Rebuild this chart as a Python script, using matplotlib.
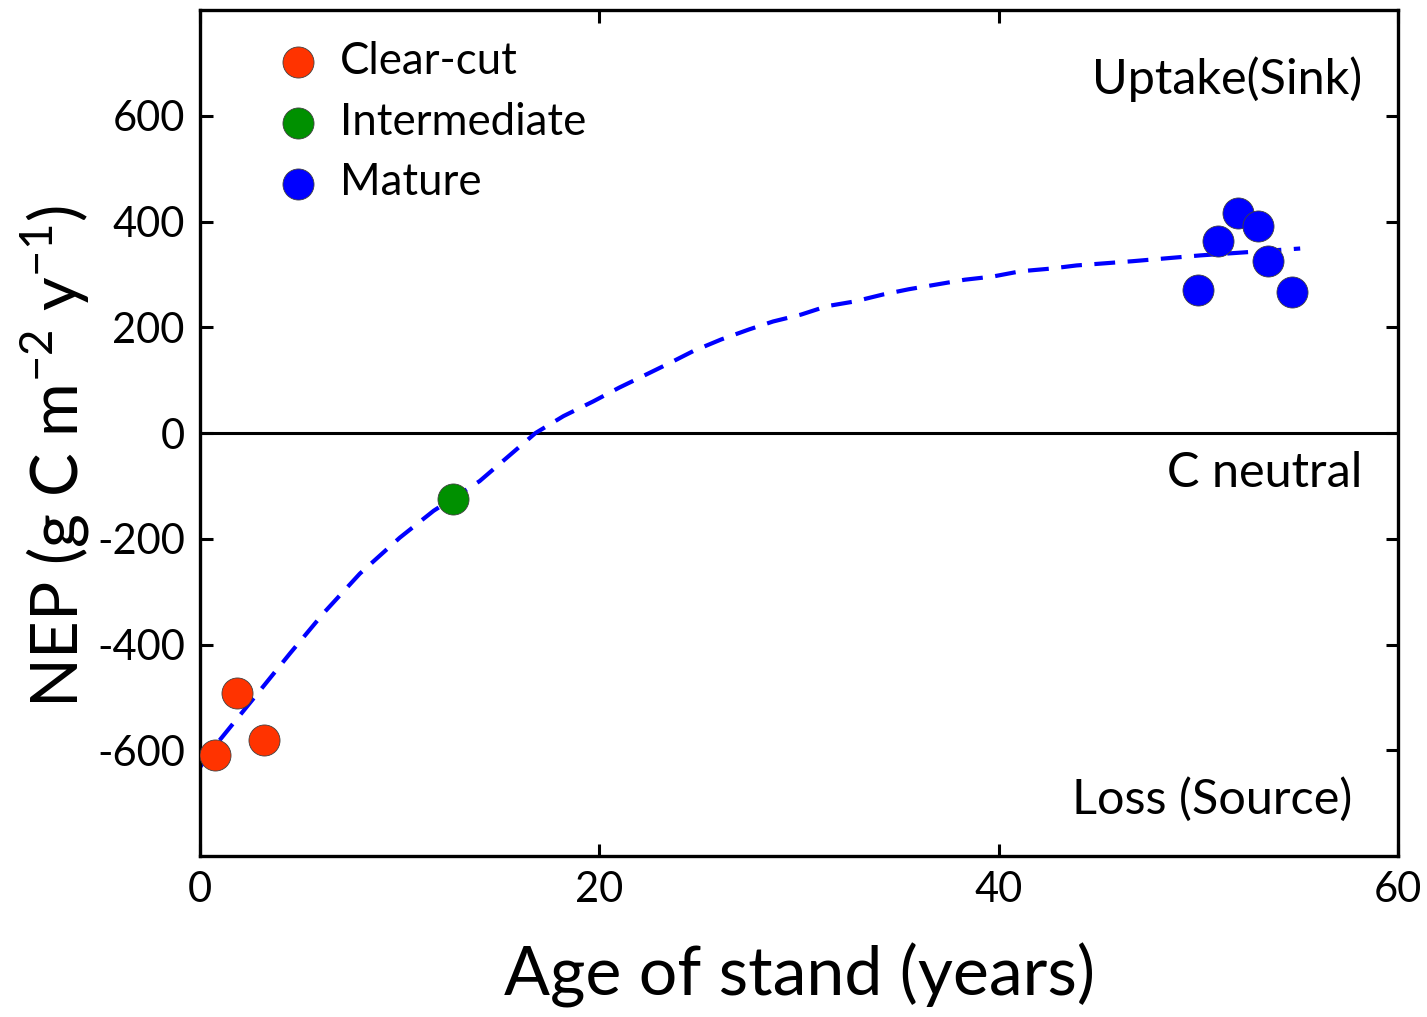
"""NEP vs stand age chart (clear-cut / intermediate / mature stands)."""

import matplotlib

matplotlib.use("Agg")
import matplotlib.pyplot as plt

plt.rcParams["font.family"] = ["Lato", "DejaVu Sans"]
plt.rcParams["axes.unicode_minus"] = False

# stand measurements
clearcut_age = [0.75, 1.85, 3.2]
clearcut_nep = [-609, -492, -581]
inter_age = [12.67]
inter_nep = [-125]
mature_age = [50.0, 51.0, 52.0, 53.0, 53.5, 54.7]
mature_nep = [270, 364, 417, 392, 326, 266]

# fitted curve
fit_age = [0.0, 0.85, 3.0, 4.5, 6.2, 8.0, 10.0, 11.7, 14.0, 16.8, 18.2, 19.7,
           21.0, 22.2, 23.5, 24.7, 26.1, 27.5, 28.7, 30.1, 31.4, 32.8, 34.2,
           35.5, 36.9, 38.3, 39.7, 41.1, 42.6, 43.9, 45.3, 46.7, 50.1, 55.1]
fit_nep = [-632, -587, -487, -417, -340, -266, -198, -147, -91, 0, 32, 60,
           86, 108, 132, 155, 177, 196, 211, 224, 240, 249, 262,
           272, 281, 290, 296, 306, 311, 317, 321, 325, 336, 349]

x_ticks = [0, 20, 40, 60]
y_ticks = [-600, -400, -200, 0, 200, 400, 600]

fig = plt.figure(figsize=(14.27, 10.17), dpi=100)
ax = fig.add_axes([0.1402, 0.1583, 0.8395, 0.8318])

ax.axhline(0, color="black", linewidth=2.2, zorder=1)
ax.plot(fit_age, fit_nep, color="#0000FF", linewidth=3.0,
        linestyle=(0, (5, 3)), zorder=2)

marker_kw = dict(s=500, edgecolors="#404040", linewidths=0.6, zorder=3)
ax.scatter(clearcut_age, clearcut_nep, color="#FF3300", label="Clear-cut", **marker_kw)
ax.scatter(inter_age, inter_nep, color="#009000", label="Intermediate", **marker_kw)
ax.scatter(mature_age, mature_nep, color="#0000FF", label="Mature", **marker_kw)

ax.set_xlim(0, 60)
ax.set_ylim(-800, 800)
ax.set_xticks(x_ticks)
ax.set_yticks(y_ticks)
ax.tick_params(direction="in", length=9, width=2.2, labelsize=30,
               top=True, right=True, pad=11)
for sp in ax.spines.values():
    sp.set_linewidth(2.4)

ax.set_xlabel("Age of stand (years)", fontsize=49, labelpad=24)
ax.set_ylabel(r"NEP (g C m$^{\mathregular{-2}}$ y$^{\mathregular{-1}}$)", fontsize=47)
ax.yaxis.set_label_coords(-0.09, 0.472)

ax.text(58.2, 670, "Uptake(Sink)", fontsize=35, ha="right", va="center")
ax.text(58.2, -76, "C neutral", fontsize=35, ha="right", va="center")
ax.text(57.7, -693, "Loss (Source)", fontsize=35, ha="right", va="center")

ax.legend(loc="upper left", bbox_to_anchor=(0.067, 0.9635), frameon=False,
          fontsize=31.5, handlelength=0.8, handletextpad=0.56,
          labelspacing=0.45, borderpad=0, borderaxespad=0, scatterpoints=1)

fig.savefig("out.png", dpi=100)
